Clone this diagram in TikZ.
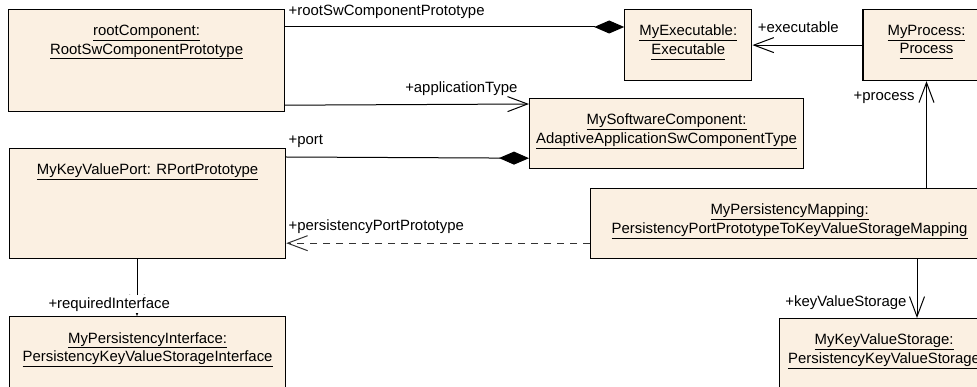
\documentclass[tikz,border=0pt]{standalone}
\usepackage{fontspec}
\setmainfont{Liberation Sans}
\usepackage{xcolor}
\usetikzlibrary{arrows.meta,positioning}
\definecolor{objfill}{RGB}{251,240,226}
\newcommand{\umlfont}{\fontsize{14.9}{18.5}\selectfont}
\newcommand{\ulname}[1]{\underline{\vphantom{y}#1}}
\tikzset{
  obj/.style 2 args={
    rectangle, draw=black, fill=objfill, line width=1.2pt,
    minimum width=#1, minimum height=#2, inner sep=0pt,
    anchor=north west},
  objtext/.style={
    anchor=north, align=center, inner sep=0pt,
    yshift=-16pt, font=\umlfont},
  rolelabel/.style={inner sep=0pt, font=\umlfont},
  assoc/.style={-{Straight Barb[length=20pt,width=15pt]}, line width=1pt},
  comp/.style={-{Diamond[length=30pt,width=13pt]}, line width=1pt},
  depend/.style={assoc, dash pattern=on 7.5pt off 5.5pt, draw=black!80},
}
\begin{document}
\begin{tikzpicture}[x=1pt, y=-1pt]
  \useasboundingbox (0,0) rectangle (977,387);
  \clip (0,0) rectangle (977,387);
  % instances
  \node[obj={276pt}{102pt}, label={[objtext]north:{\ulname{rootComponent:}\\\ulname{RootSwComponentPrototype}}}] (root) at (8,9) {};
  \node[obj={127pt}{71pt}, right=339pt of root.north east, anchor=north west,
        label={[objtext]north:{\ulname{MyExecutable:}\\\ulname{Executable}}}] (exec) {};
  \node[obj={127pt}{71pt}, right=110pt of exec.north east, anchor=north west,
        label={[objtext]north:{\ulname{MyProcess:}\\\ulname{Process}}}] (process) {};
  \node[obj={274pt}{70pt}, label={[objtext]north:{\ulname{MySoftwareComponent:}\\\ulname{AdaptiveApplicationSwComponentType}}}] (swc) at (529,98) {};
  \node[obj={276pt}{110pt}, label={[objtext]north:{\ulname{MyKeyValuePort: RPortPrototype}}}] (port) at (9,148) {};
  \node[obj={398pt}{70pt}, label={[objtext]north:{\ulname{MyPersistencyMapping:}\\\ulname{PersistencyPortPrototypeToKeyValueStorageMapping}}}] (map) at (590,188) {};
  \node[obj={276pt}{71pt}, below=57pt of port.south west, anchor=north west,
        label={[objtext]north:{\ulname{MyPersistencyInterface:}\\\ulname{PersistencyKeyValueStorageInterface}}}] (iface) {};
  \node[obj={209pt}{71pt}, label={[objtext]north:{\ulname{MyKeyValueStorage:}\\\ulname{PersistencyKeyValueStorage}}}] (storage) at (779,318) {};
  % connectors
  \draw[comp] ([yshift=-18pt]root.north east) --
    node[rolelabel, pos=0, anchor=base west, xshift=3pt, yshift=11pt] (lblRoot) {+rootSwComponentPrototype}
    ([yshift=-18pt]exec.north west);
  \draw[assoc] ([yshift=7pt]root.south east) --
    node[rolelabel, pos=1, anchor=base east, xshift=-11pt, yshift=11pt] (lblAppType) {+applicationType}
    ([yshift=-6pt]swc.north west);
  \draw[assoc] (process.west) --
    node[rolelabel, pos=1, anchor=base west, xshift=5pt, yshift=13pt] (lblExec) {+executable}
    (exec.east);
  \draw[comp] ([yshift=-9pt]port.north east) --
    node[rolelabel, pos=0, anchor=base west, xshift=2pt, yshift=12pt] (lblPort) {+port}
    ([yshift=11pt]swc.south west);
  \draw[depend] ([yshift=16pt]map.south west) --
    node[rolelabel, pos=1, anchor=base west, xshift=2pt, yshift=13pt] (lblPortProto) {+persistencyPortPrototype}
    ([yshift=16pt]port.south east);
  \draw[assoc] (process.south |- map.north) --
    node[rolelabel, pos=1, anchor=base east, xshift=-11.5pt, yshift=-19pt] (lblProcess) {+process}
    (process.south);
  \draw[assoc] ([xshift=138pt]storage.north west |- map.south) --
    node[rolelabel, pos=1, anchor=base east, xshift=-10pt, yshift=11pt] (lblStorage) {+keyValueStorage}
    ([xshift=138pt]storage.north west);
  \draw[assoc] ([xshift=128pt]port.south west) --
    node[rolelabel, pos=1, anchor=base west, xshift=-90pt, yshift=8pt,
         fill=white, inner xsep=1pt, inner ysep=2pt] (lblIface) {+requiredInterface}
    ([xshift=128pt]iface.north west);
\end{tikzpicture}
\end{document}
